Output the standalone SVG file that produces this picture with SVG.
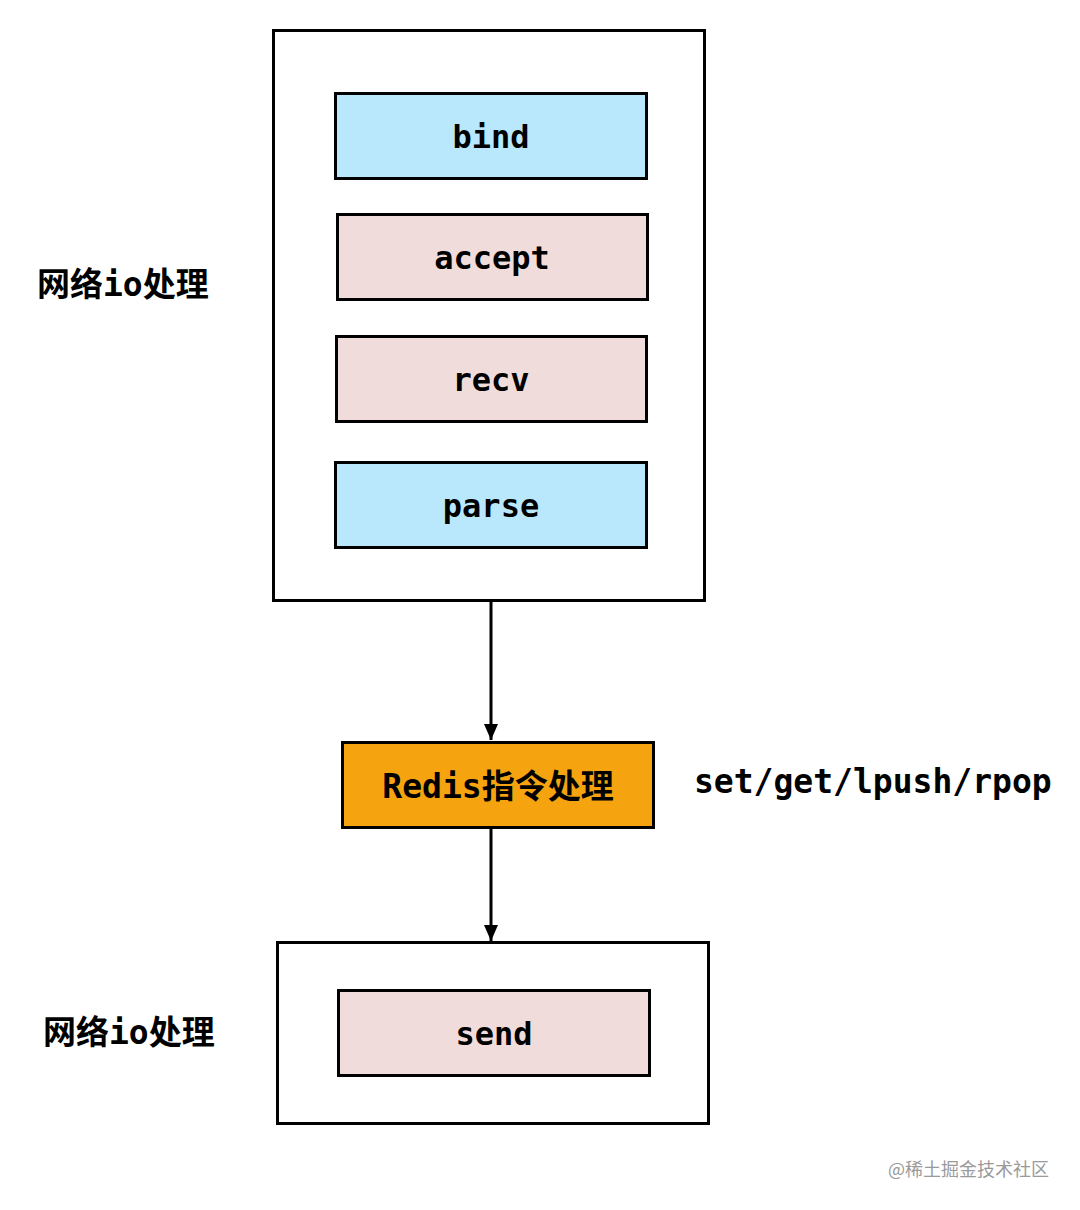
<svg xmlns="http://www.w3.org/2000/svg" width="1080" height="1210" viewBox="0 0 1080 1210">
<defs>
<style>
.frame{fill:#fff;stroke:#000;stroke-width:3}
.box{stroke:#000;stroke-width:3}
.blue{fill:#b9e8fd}
.pink{fill:#f1dcdc}
.orange{fill:#f5a30f}
.t{font-family:"DejaVu Sans Mono","Noto Sans CJK SC",monospace;font-weight:bold;font-size:32px;fill:#000;text-anchor:middle;dominant-baseline:central}
.lbl{font-family:"DejaVu Sans Mono","Noto Sans CJK SC",monospace;font-weight:bold;font-size:33px;fill:#000;dominant-baseline:central}
.wm{font-family:"Noto Sans CJK SC",sans-serif;font-size:18px;fill:#9a9a9a;dominant-baseline:central}
.edge{stroke:#000;stroke-width:3;fill:none}
</style>
<marker id="ah" viewBox="0 0 16 16" refX="16" refY="8" markerWidth="16" markerHeight="16" markerUnits="userSpaceOnUse" orient="auto">
<path d="M0,1 L16,8 L0,15 Z" fill="#000"/>
</marker>
</defs>
<rect width="1080" height="1210" fill="#fff"/>
<g id="net-group-top">
<rect class="frame" x="273.5" y="30.5" width="431" height="570"/>
</g>
<g id="bind"><rect class="box blue" x="335.5" y="93.5" width="311" height="85"/><text class="t" x="491" y="137">bind</text></g>
<g id="accept"><rect class="box pink" x="337.5" y="214.5" width="310" height="85"/><text class="t" x="492" y="258">accept</text></g>
<g id="recv"><rect class="box pink" x="336.5" y="336.5" width="310" height="85"/><text class="t" x="491" y="380">recv</text></g>
<g id="parse"><rect class="box blue" x="335.5" y="462.5" width="311" height="85"/><text class="t" x="491" y="506">parse</text></g>
<g id="label-top"><text class="lbl" x="37" y="284">网络io处理</text></g>
<g id="redis"><rect class="box orange" x="342.5" y="742.5" width="311" height="85"/><text class="t" x="498" y="786" style="font-size:33px">Redis指令处理</text></g>
<g id="cmds"><text class="lbl" x="694" y="781">set/get/lpush/rpop</text></g>
<g id="net-group-bottom"><rect class="frame" x="277.5" y="942.5" width="431" height="181"/></g>
<g id="send"><rect class="box pink" x="338.5" y="990.5" width="311" height="85"/><text class="t" x="494" y="1034">send</text></g>
<g id="label-bottom"><text class="lbl" x="43" y="1032">网络io处理</text></g>
<g id="connectors">
<line class="edge" x1="491" y1="601" x2="491" y2="740" marker-end="url(#ah)"/>
<line class="edge" x1="491" y1="828" x2="491" y2="941" marker-end="url(#ah)"/>
</g>
<text class="wm" x="888" y="1168">@稀土掘金技术社区</text>
</svg>
